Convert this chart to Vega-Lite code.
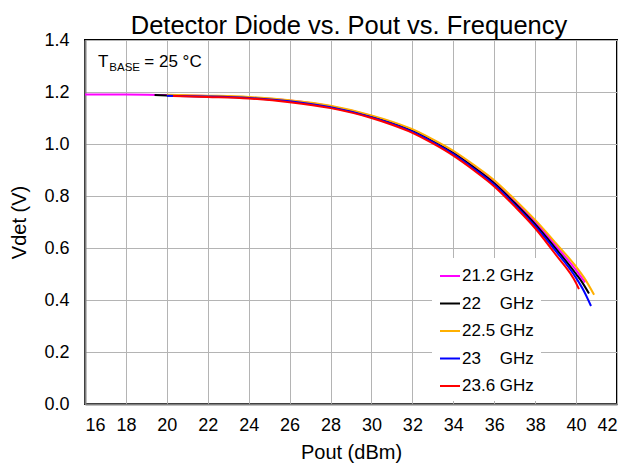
{
  "$schema": "https://vega.github.io/schema/vega-lite/v6.json",
  "autosize": {"type": "none"},
  "padding": {"left": 85, "top": 40, "right": 11, "bottom": 61},
  "width": 532,
  "height": 364,
  "background": "white",
  "title": {"text": "Detector Diode vs. Pout vs. Frequency", "font": "Liberation Sans", "fontSize": 25.5, "fontWeight": "normal", "color": "black", "anchor": "middle", "offset": 6, "dx": -2, "dy": 14},
  "config": {
    "view": {"stroke": "black", "strokeWidth": 2},
    "font": "Liberation Sans",
    "axis": {
      "labelFont": "Liberation Sans", "labelFontSize": 18, "labelColor": "black",
      "titleFont": "Liberation Sans", "titleFontSize": 20, "titleFontWeight": "normal", "titleColor": "black",
      "gridColor": "#b4b4b4", "gridWidth": 1, "gridOpacity": 1,
      "domainColor": "#808080", "domainWidth": 2, "ticks": false
    }
  },
  "layer": [
    {
      "data": {"values": [
        {"f": "21.2", "x": 16, "y": 1.19}, {"f": "21.2", "x": 18, "y": 1.19}, {"f": "21.2", "x": 20, "y": 1.188},
        {"f": "21.2", "x": 22, "y": 1.185}, {"f": "21.2", "x": 24, "y": 1.179}, {"f": "21.2", "x": 26, "y": 1.167},
        {"f": "21.2", "x": 28, "y": 1.145}, {"f": "21.2", "x": 30, "y": 1.108}, {"f": "21.2", "x": 31, "y": 1.083},
        {"f": "21.2", "x": 32, "y": 1.054}, {"f": "21.2", "x": 33, "y": 1.015}, {"f": "21.2", "x": 34, "y": 0.970},
        {"f": "21.2", "x": 35, "y": 0.915}, {"f": "21.2", "x": 36, "y": 0.856}, {"f": "21.2", "x": 37, "y": 0.780},
        {"f": "21.2", "x": 38, "y": 0.702}, {"f": "21.2", "x": 39, "y": 0.610}, {"f": "21.2", "x": 40, "y": 0.515},
        {"f": "21.2", "x": 40.44, "y": 0.468},

        {"f": "22", "x": 19.4, "y": 1.188}, {"f": "22", "x": 20, "y": 1.187}, {"f": "22", "x": 22, "y": 1.184},
        {"f": "22", "x": 24, "y": 1.178}, {"f": "22", "x": 26, "y": 1.165}, {"f": "22", "x": 28, "y": 1.143},
        {"f": "22", "x": 30, "y": 1.105}, {"f": "22", "x": 31, "y": 1.080}, {"f": "22", "x": 32, "y": 1.050},
        {"f": "22", "x": 33, "y": 1.010}, {"f": "22", "x": 34, "y": 0.965}, {"f": "22", "x": 35, "y": 0.910},
        {"f": "22", "x": 36, "y": 0.849}, {"f": "22", "x": 37, "y": 0.773}, {"f": "22", "x": 38, "y": 0.692},
        {"f": "22", "x": 39, "y": 0.599}, {"f": "22", "x": 40, "y": 0.500}, {"f": "22", "x": 40.3, "y": 0.468},
        {"f": "22", "x": 40.63, "y": 0.425},

        {"f": "22.5", "x": 20, "y": 1.189}, {"f": "22.5", "x": 22, "y": 1.186}, {"f": "22.5", "x": 24, "y": 1.181},
        {"f": "22.5", "x": 26, "y": 1.168}, {"f": "22.5", "x": 28, "y": 1.147}, {"f": "22.5", "x": 30, "y": 1.110},
        {"f": "22.5", "x": 31, "y": 1.086}, {"f": "22.5", "x": 32, "y": 1.057}, {"f": "22.5", "x": 33, "y": 1.018},
        {"f": "22.5", "x": 34, "y": 0.974}, {"f": "22.5", "x": 35, "y": 0.920}, {"f": "22.5", "x": 36, "y": 0.861},
        {"f": "22.5", "x": 37, "y": 0.787}, {"f": "22.5", "x": 38, "y": 0.708}, {"f": "22.5", "x": 39, "y": 0.620},
        {"f": "22.5", "x": 40, "y": 0.528}, {"f": "22.5", "x": 40.4, "y": 0.485}, {"f": "22.5", "x": 40.88, "y": 0.420},

        {"f": "23", "x": 20, "y": 1.186}, {"f": "23", "x": 22, "y": 1.183}, {"f": "23", "x": 24, "y": 1.177},
        {"f": "23", "x": 26, "y": 1.164}, {"f": "23", "x": 28, "y": 1.141}, {"f": "23", "x": 30, "y": 1.103},
        {"f": "23", "x": 31, "y": 1.078}, {"f": "23", "x": 32, "y": 1.047}, {"f": "23", "x": 33, "y": 1.007},
        {"f": "23", "x": 34, "y": 0.961}, {"f": "23", "x": 35, "y": 0.905}, {"f": "23", "x": 36, "y": 0.843},
        {"f": "23", "x": 37, "y": 0.766}, {"f": "23", "x": 38, "y": 0.684}, {"f": "23", "x": 39, "y": 0.589},
        {"f": "23", "x": 40, "y": 0.485}, {"f": "23", "x": 40.4, "y": 0.432}, {"f": "23", "x": 40.73, "y": 0.377},

        {"f": "23.6", "x": 20.3, "y": 1.185}, {"f": "23.6", "x": 22, "y": 1.181}, {"f": "23.6", "x": 24, "y": 1.175},
        {"f": "23.6", "x": 26, "y": 1.161}, {"f": "23.6", "x": 28, "y": 1.138}, {"f": "23.6", "x": 30, "y": 1.100},
        {"f": "23.6", "x": 31, "y": 1.074}, {"f": "23.6", "x": 32, "y": 1.043}, {"f": "23.6", "x": 33, "y": 1.002},
        {"f": "23.6", "x": 34, "y": 0.955}, {"f": "23.6", "x": 35, "y": 0.899}, {"f": "23.6", "x": 36, "y": 0.837},
        {"f": "23.6", "x": 37, "y": 0.760}, {"f": "23.6", "x": 38, "y": 0.676}, {"f": "23.6", "x": 39, "y": 0.575},
        {"f": "23.6", "x": 40, "y": 0.465}, {"f": "23.6", "x": 40.14, "y": 0.442}
      ]},
      "mark": {"type": "line", "strokeWidth": 2, "interpolate": "monotone", "clip": true},
      "encoding": {
        "x": {"field": "x", "type": "quantitative",
              "scale": {"domain": [16, 42], "nice": false, "zero": false},
              "axis": {"values": [16, 18, 20, 22, 24, 26, 28, 30, 32, 34, 36, 38, 40, 42], "title": "Pout (dBm)", "labelPadding": 12, "titlePadding": 8}},
        "y": {"field": "y", "type": "quantitative",
              "scale": {"domain": [0, 1.4], "nice": false, "zero": true},
              "axis": {"values": [0, 0.2, 0.4, 0.6, 0.8, 1.0, 1.2, 1.4], "format": ".1f", "title": "Vdet (V)", "labelPadding": 16, "titlePadding": 14}},
        "color": {"field": "f", "type": "nominal",
                  "scale": {"domain": ["21.2", "22", "22.5", "23", "23.6"], "range": ["#ff00ff", "#000000", "#ffb000", "#0000ff", "#ff0000"]},
                  "legend": {"orient": "none", "legendX": 347, "legendY": 218, "title": null,
                             "fillColor": "white", "padding": 7,
                             "symbolType": "stroke", "symbolSize": 400, "symbolStrokeWidth": 2,
                             "labelFont": "Liberation Sans", "labelFontSize": 17, "labelColor": "black", "labelOffset": 1,
                             "rowPadding": 8.5,
                             "labelExpr": "length(datum.label) == 2 ? datum.label + '\u2008\u2007 GHz' : datum.label + ' GHz'"}}
      }
    },
    {
      "data": {"values": [{"x": 16.635, "y": 1.296, "t": "T"}]},
      "mark": {"type": "text", "align": "left", "baseline": "alphabetic", "fontSize": 17, "font": "Liberation Sans", "color": "black"},
      "encoding": {"x": {"field": "x", "type": "quantitative"}, "y": {"field": "y", "type": "quantitative"}, "text": {"field": "t"}}
    },
    {
      "data": {"values": [{"x": 17.19, "y": 1.281, "t": "BASE"}]},
      "mark": {"type": "text", "align": "left", "baseline": "alphabetic", "fontSize": 11.5, "font": "Liberation Sans", "color": "black"},
      "encoding": {"x": {"field": "x", "type": "quantitative"}, "y": {"field": "y", "type": "quantitative"}, "text": {"field": "t"}}
    },
    {
      "data": {"values": [{"x": 18.9, "y": 1.296, "t": "= 25 °C"}]},
      "mark": {"type": "text", "align": "left", "baseline": "alphabetic", "fontSize": 17, "font": "Liberation Sans", "color": "black"},
      "encoding": {"x": {"field": "x", "type": "quantitative"}, "y": {"field": "y", "type": "quantitative"}, "text": {"field": "t"}}
    }
  ]
}
